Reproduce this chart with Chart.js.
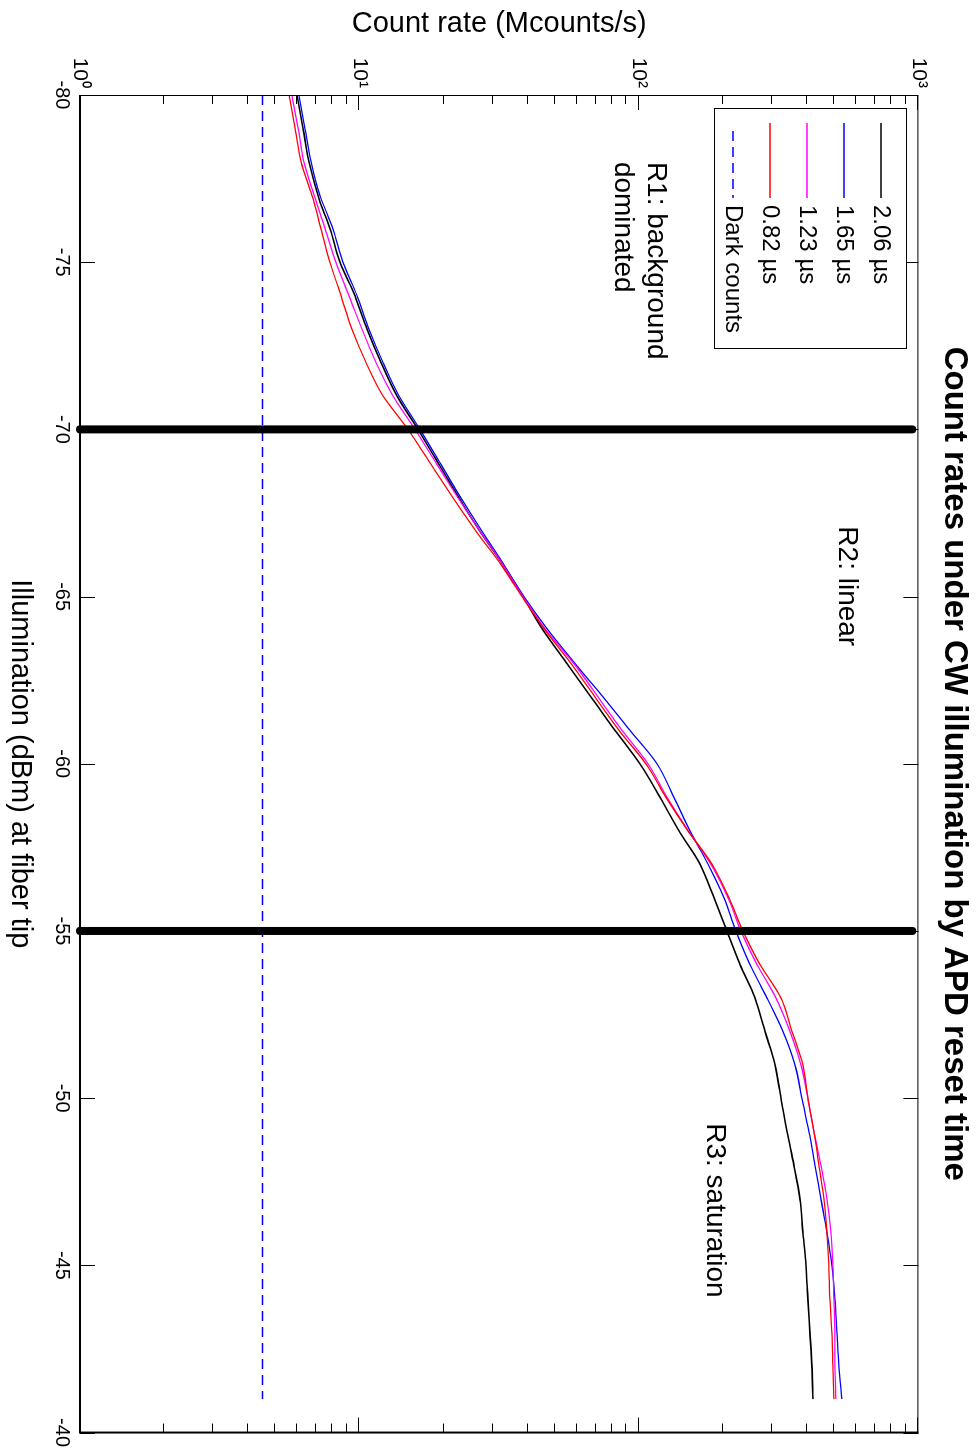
<!DOCTYPE html>
<html><head><meta charset="utf-8">
<script src="https://cdn.jsdelivr.net/npm/chart.js@4.4.0/dist/chart.umd.min.js"></script>
<style>
html,body{margin:0;padding:0;width:977px;height:1453px;overflow:hidden;background:#fff}
#wrap{position:absolute;left:0;top:0;width:1453px;height:977px;transform-origin:0 0;transform:translate(977px,0) rotate(90deg);}
canvas{display:block}
</style></head><body>
<div id="wrap"><canvas id="c" width="1453" height="977"></canvas></div>
<script>
// ---- data (Illumination in dBm, count rate in Mcounts/s) ----
const illumination = [-80,-79,-78,-77,-76,-75,-74,-73,-72,-71,-70,-69,-68,-67,-66,-65,-64,-63,-62,-61,-60,-59,-58,-57,-56,-55,-54,-53,-52,-51,-50,-49,-48,-47,-46,-45,-44,-43,-42,-41];
const rate206 = [5.98,6.28,6.60,7.10,7.84,8.52,9.63,10.64,11.94,13.62,16.19,19.10,22.51,26.76,32.34,38.46,45.35,55.26,67.34,82.07,100.8,118.9,139.0,165.3,185.5,206.4,229.8,260.0,282.4,306.6,322.2,338.5,358.5,376.7,386.1,395.9,402.4,409.1,415.9,419.4];
const rate165 = [6.07,6.38,6.71,7.22,8.04,8.73,9.80,10.81,12.14,13.85,16.46,19.41,22.88,27.21,32.61,38.78,47.25,59.02,74.32,92.86,116.0,133.4,152.2,176.6,201.4,222.3,249.5,287.1,327.5,361.5,383.0,405.8,426.4,447.9,470.6,490.4,502.8,511.2,519.6,532.6];
const rate123 = [5.73,6.03,6.33,6.88,7.53,8.24,9.17,10.21,11.46,13.18,15.80,18.78,22.33,26.76,32.34,38.46,46.48,58.5,71.34,86.97,107.7,126.0,149.7,180.9,208.1,231.7,264.4,309.1,346.9,379.8,402.4,422.9,447.9,470.6,486.4,494.5,498.6,502.8,502.8,506.9];
const rate082 = [5.60,5.88,6.18,6.76,7.28,7.84,8.59,9.40,10.55,12.14,14.92,17.87,21.42,25.90,31.81,38.14,46.10,57.11,69.59,84.80,105.9,124.9,149.7,182.4,209.9,235.6,271.0,322.2,352.7,386.1,402.4,422.9,440.6,459.1,470.6,478.4,482.4,490.4,494.5,498.6];
const darkX = [-80, -41];
const darkY = [4.5, 4.5];
const regionBounds = [-70, -55];
const boundSpan = [1, 950];
const seriesLabels = ['2.06 \u00b5s', '1.65 \u00b5s', '1.23 \u00b5s', '0.82 \u00b5s', 'Dark counts'];
const seriesColors = ['#000000', '#0000ff', '#ff00ff', '#ff0000', '#0000ff'];
const xTickValues = [-80, -75, -70, -65, -60, -55, -50, -45, -40];
const yDecades = [1, 10, 100, 1000];
const supDigits = ['\u2070', '\u00b9', '\u00b2', '\u00b3'];
const regionTexts = [
  {lines: ['R1: background', 'dominated'], x: -78.0, y: 115},
  {lines: ['R2: linear'], x: -67.1, y: 555},
  {lines: ['R3: saturation'], x: -49.25, y: 187}
];
const titleText = 'Count rates under CW illumination by APD reset time';
const xTitle = 'Illumination (dBm) at fiber tip';
const yTitle = 'Count rate (Mcounts/s)';

const FONT = "'Liberation Sans', Arial, Helvetica, sans-serif";
const pts = (xs, ys) => xs.map((x, i) => ({x: x, y: ys[i]}));
const rates = [rate206, rate165, rate123, rate082];

const datasets = [];
rates.forEach((r, i) => {
  datasets.push({label: seriesLabels[i], data: pts(illumination, r), borderColor: seriesColors[i],
    borderWidth: i === 0 ? 1.6 : 1.3, pointRadius: 0, cubicInterpolationMode: 'monotone', fill: false, order: 5 - i, legend: true});
});
datasets.push({label: seriesLabels[4], data: pts(darkX, darkY), borderColor: seriesColors[4], borderWidth: 1.5,
  borderDash: [10, 6], pointRadius: 0, fill: false, order: 1, legend: true});
regionBounds.forEach(b => {
  datasets.push({label: 'bound', data: pts([b, b], boundSpan), borderColor: '#000', borderWidth: 8,
    borderCapStyle: 'round', pointRadius: 0, fill: false, order: 0, clip: false, legend: false});
});

const framePlugin = {
  id: 'frame',
  afterDatasetsDraw(chart) {
    const {ctx, chartArea: a, scales: {x, y}} = chart;
    ctx.save();
    ctx.strokeStyle = '#000';
    ctx.lineWidth = 1;
    xTickValues.forEach(v => {
      const p = Math.round(x.getPixelForValue(v)) + 0.5;
      ctx.beginPath();
      ctx.moveTo(p, a.bottom); ctx.lineTo(p, a.bottom - 15);
      ctx.moveTo(p, a.top); ctx.lineTo(p, a.top + 15);
      ctx.stroke();
    });
    for (let d = 0; d < yDecades.length; d++) {
      for (let k = 1; k <= 9; k++) {
        if (d === yDecades.length - 1 && k > 1) break;
        const v = yDecades[d] * k;
        const len = k === 1 ? 15 : 9;
        const p = Math.round(y.getPixelForValue(v)) + 0.5;
        ctx.beginPath();
        ctx.moveTo(a.left, p); ctx.lineTo(a.left + len, p);
        ctx.moveTo(a.right, p); ctx.lineTo(a.right - len, p);
        ctx.stroke();
      }
    }
    ctx.lineWidth = 1;
    ctx.beginPath();
    ctx.moveTo(a.left + 0.5, a.bottom); ctx.lineTo(a.left + 0.5, a.top + 0.5); ctx.lineTo(a.right, a.top + 0.5);
    ctx.stroke();
    ctx.lineWidth = 2;
    ctx.beginPath();
    ctx.moveTo(a.left, a.bottom); ctx.lineTo(a.right, a.bottom); ctx.lineTo(a.right, a.top);
    ctx.stroke();

    ctx.fillStyle = '#000';
    ctx.font = '28px ' + FONT;
    ctx.textAlign = 'left';
    ctx.textBaseline = 'middle';
    regionTexts.forEach(t => {
      const px = x.getPixelForValue(t.x), py = y.getPixelForValue(t.y);
      t.lines.forEach((ln, j) => ctx.fillText(ln, px, py + j * 33));
    });

    const bx = 108, by = 70, bw = 240, bh = 192;
    ctx.fillStyle = '#fff';
    ctx.fillRect(bx, by, bw, bh);
    ctx.lineWidth = 1;
    ctx.strokeStyle = '#000';
    ctx.strokeRect(bx + 0.5, by + 0.5, bw, bh);
    const items = chart.data.datasets.filter(ds => ds.legend);
    ctx.font = '24px ' + FONT;
    items.forEach((ds, i) => {
      const ly = by + 26 + i * 37;
      ctx.save();
      ctx.strokeStyle = ds.borderColor;
      ctx.lineWidth = 1.5;
      ctx.setLineDash(ds.borderDash || []);
      ctx.beginPath();
      ctx.moveTo(ds.borderDash ? bx + 23 : bx + 15, ly);
      ctx.lineTo(bx + 90, ly);
      ctx.stroke();
      ctx.restore();
      ctx.fillStyle = '#000';
      ctx.fillText(ds.label, bx + 97, ly);
    });
    ctx.restore();
  }
};

new Chart(document.getElementById('c'), {
  type: 'line',
  data: {datasets: datasets},
  options: {
    responsive: false,
    animation: false,
    devicePixelRatio: 1,
    layout: {padding: {left: 0, right: 18, top: 0, bottom: 0}},
    plugins: {
      legend: {display: false},
      tooltip: {enabled: false},
      title: {display: true, text: titleText, fullSize: false, color: '#000',
        font: {family: FONT, size: 33, weight: 'bold'}, padding: {top: 3, bottom: 16}}
    },
    scales: {
      x: {
        type: 'linear', position: 'bottom', min: -80, max: -40,
        grid: {display: false, drawTicks: false}, border: {display: false},
        ticks: {stepSize: 5, color: '#000', padding: 6, font: {family: FONT, size: 20},
          callback: v => String(v)},
        title: {display: true, text: xTitle, color: '#000', font: {family: FONT, size: 29}, padding: {top: 0, bottom: 3}},
        afterFit: s => { s.height = 80; }
      },
      y: {
        type: 'logarithmic', position: 'left', min: 1, max: 1000,
        grid: {display: false, drawTicks: false}, border: {display: false},
        ticks: {autoSkip: false, color: '#000', padding: 7, font: {family: FONT, size: 21},
          callback: v => { const e = yDecades.indexOf(v); return e >= 0 ? '10' + supDigits[e] : ''; }},
        title: {display: true, text: yTitle, color: '#000', font: {family: FONT, size: 29}, padding: {top: 7, bottom: 0}},
        afterFit: s => { s.width = 95; }
      }
    }
  },
  plugins: [framePlugin]
});
</script>
</body></html>
